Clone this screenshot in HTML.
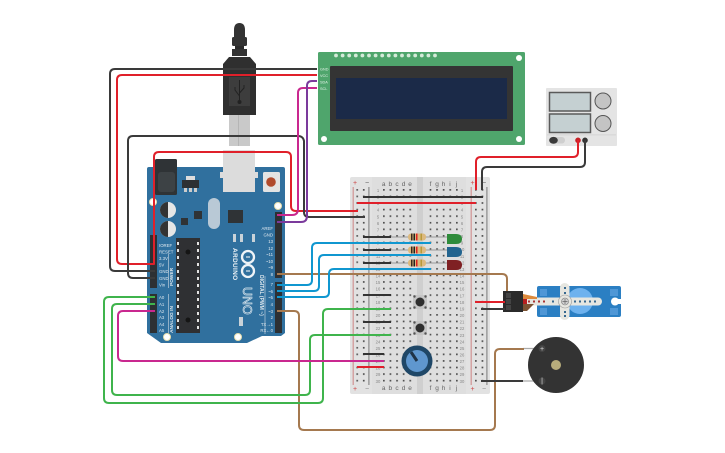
<!DOCTYPE html>
<html><head><meta charset="utf-8"><style>
html,body{margin:0;padding:0;background:#fff;width:725px;height:453px;overflow:hidden}
svg{display:block;font-family:"Liberation Sans",sans-serif;filter:blur(0.3px)}
.w{fill:none;stroke-width:2;stroke-linejoin:round;stroke-linecap:butt}
.n text{font-size:4.2px;fill:#888;text-anchor:middle}
.l text{font-size:4.3px;fill:#dfe8ef}
.r text{font-size:4.3px;fill:#dfe8ef;text-anchor:end}
</style></head><body>
<svg width="725" height="453" viewBox="0 0 725 453" xmlns="http://www.w3.org/2000/svg">
<defs>
<pattern id="dr" x="356.3" y="189" width="6.6" height="6.58" patternUnits="userSpaceOnUse"><rect width="1.7" height="1.7" fill="#505050"/></pattern>
<pattern id="dc" x="383" y="189" width="6.6" height="6.58" patternUnits="userSpaceOnUse"><rect width="1.7" height="1.7" fill="#505050"/></pattern>
<pattern id="dd" x="429.6" y="189" width="6.6" height="6.58" patternUnits="userSpaceOnUse"><rect width="1.7" height="1.7" fill="#505050"/></pattern>
<pattern id="de" x="475" y="189" width="6.6" height="6.58" patternUnits="userSpaceOnUse"><rect width="1.7" height="1.7" fill="#505050"/></pattern>
</defs>

<!-- USB cable -->
<rect x="229" y="113" width="21" height="33" fill="#c9c9c9"/>
<rect x="238" y="113" width="1" height="33" fill="#b5b5b5"/>
<path d="M234 40V30Q234 23 239.500 23Q245 23 245 30V40Z" fill="#333"/>
<rect x="232" y="37" width="15" height="9" rx="1.500" fill="#333"/>
<rect x="235" y="46" width="9" height="4" fill="#2a2a2a"/>
<rect x="232" y="49" width="15" height="7" fill="#333"/>
<path d="M229 57H250L256 64V115H223V64Z" fill="#2f2f2f"/>
<rect x="229" y="77" width="21" height="29" fill="#3d3d3d"/>
<path d="M239.500 80V102M239.500 96L235 90V87M239.500 93L244 88V85" stroke="#222" stroke-width="1" fill="none"/>
<circle cx="239.500" cy="102" r="2" fill="#222"/>

<!-- LCD -->
<rect x="318" y="52" width="207" height="93" rx="1.500" fill="#4fa56c"/>
<rect x="330" y="66" width="183" height="65" rx="1" fill="#343434"/>
<rect x="336" y="78" width="171" height="41" fill="#1b2a48"/>
<g fill="#fff"><circle cx="519" cy="58" r="3"/><circle cx="324" cy="139" r="3"/><circle cx="519" cy="139" r="3"/></g>
<g fill="#d5ead9"><circle cx="336" cy="55.500" r="1.900"/><circle cx="342.600" cy="55.500" r="1.900"/><circle cx="349.200" cy="55.500" r="1.900"/><circle cx="355.800" cy="55.500" r="1.900"/><circle cx="362.400" cy="55.500" r="1.900"/><circle cx="369" cy="55.500" r="1.900"/><circle cx="375.600" cy="55.500" r="1.900"/><circle cx="382.200" cy="55.500" r="1.900"/><circle cx="388.800" cy="55.500" r="1.900"/><circle cx="395.400" cy="55.500" r="1.900"/><circle cx="402" cy="55.500" r="1.900"/><circle cx="408.600" cy="55.500" r="1.900"/><circle cx="415.200" cy="55.500" r="1.900"/><circle cx="421.800" cy="55.500" r="1.900"/><circle cx="428.400" cy="55.500" r="1.900"/><circle cx="435" cy="55.500" r="1.900"/></g>
<g font-size="3.800" fill="#e4f3e8"><text x="320" y="70.500">GND</text><text x="320" y="77">VCC</text><text x="320" y="83.500">SDA</text><text x="320" y="90">SCL</text></g>

<!-- Power supply -->
<rect x="546" y="88" width="71" height="58" rx="1" fill="#e4e4e4"/>
<rect x="547" y="134.500" width="69" height="0.800" fill="#d0d0d0"/>
<rect x="549.500" y="92.500" width="41" height="18.500" fill="#c5d0d2" stroke="#5a5a5a" stroke-width="1.500"/>
<rect x="549.500" y="114" width="41" height="18.500" fill="#c5d0d2" stroke="#5a5a5a" stroke-width="1.500"/>
<circle cx="603" cy="101" r="8" fill="#c4c4c4" stroke="#555" stroke-width="1"/>
<circle cx="603" cy="123.500" r="8" fill="#c4c4c4" stroke="#555" stroke-width="1"/>
<rect x="549" y="137" width="16" height="6.500" rx="3.200" fill="#cfcfcf"/>
<ellipse cx="553.500" cy="140.300" rx="4.300" ry="3.400" fill="#3a3a3a"/>
<circle cx="578" cy="140.300" r="2.800" fill="#c62026"/>
<circle cx="585" cy="140.300" r="2.800" fill="#333"/>

<!-- Arduino -->
<path d="M149 167H283Q285 167 285 169V333L281 336H262L247 343H161L147 333V169Q147 167 149 167Z" fill="#30709e"/>
<rect x="155" y="159" width="22" height="36" rx="1.500" fill="#2f3336"/>
<rect x="158" y="172" width="17" height="20" rx="3" fill="#3d4245"/>
<path d="M223 150H255V172H258V178H255V192H223V178H220V172H223Z" fill="#dcdcdc"/>
<rect x="263" y="172" width="17" height="20" rx="1.500" fill="#e3e3e3"/>
<circle cx="271" cy="182" r="4.800" fill="#b04a2c"/>
<rect x="186" y="176" width="9" height="4" fill="#ddd"/>
<rect x="182" y="180" width="17" height="8" fill="#2d3033"/>
<rect x="184" y="188" width="3" height="4" fill="#ccc"/><rect x="189" y="188" width="3" height="4" fill="#ccc"/><rect x="194" y="188" width="3" height="4" fill="#ccc"/>
<circle cx="168" cy="210" r="8" fill="#e6e6e6"/><path d="M168 202A8 8 0 0 0 168 218Z" fill="#333"/>
<circle cx="168" cy="229" r="8" fill="#e6e6e6"/><path d="M168 221A8 8 0 0 0 168 237Z" fill="#333"/>
<rect x="194" y="211" width="8" height="8" fill="#2f3336"/>
<rect x="181" y="218" width="7" height="7" fill="#2f3336"/>
<rect x="208" y="198" width="12" height="31" rx="6" fill="#b9c9d6"/>
<rect x="228" y="210" width="15" height="13" fill="#2f3336"/>
<rect x="233" y="234" width="3" height="8" fill="#c9d2d8"/><rect x="240" y="234" width="3" height="8" fill="#c9d2d8"/><rect x="252" y="234" width="3" height="8" fill="#c9d2d8"/>
<rect x="239" y="317" width="4" height="9" fill="#c9d2d8"/>
<rect x="176" y="238" width="24" height="95" fill="#2f3033"/>
<g fill="#e2e2e2"><rect x="177" y="242" width="2" height="3"/><rect x="197" y="242" width="2" height="3"/><rect x="177" y="249" width="2" height="3"/><rect x="197" y="249" width="2" height="3"/><rect x="177" y="256" width="2" height="3"/><rect x="197" y="256" width="2" height="3"/><rect x="177" y="263" width="2" height="3"/><rect x="197" y="263" width="2" height="3"/><rect x="177" y="270" width="2" height="3"/><rect x="197" y="270" width="2" height="3"/><rect x="177" y="277" width="2" height="3"/><rect x="197" y="277" width="2" height="3"/><rect x="177" y="284" width="2" height="3"/><rect x="197" y="284" width="2" height="3"/><rect x="177" y="291" width="2" height="3"/><rect x="197" y="291" width="2" height="3"/><rect x="177" y="298" width="2" height="3"/><rect x="197" y="298" width="2" height="3"/><rect x="177" y="305" width="2" height="3"/><rect x="197" y="305" width="2" height="3"/><rect x="177" y="312" width="2" height="3"/><rect x="197" y="312" width="2" height="3"/><rect x="177" y="319" width="2" height="3"/><rect x="197" y="319" width="2" height="3"/><rect x="177" y="326" width="2" height="3"/><rect x="197" y="326" width="2" height="3"/></g>
<circle cx="188" cy="252" r="2.500" fill="#151515"/><circle cx="188" cy="320" r="2.500" fill="#151515"/>
<g fill="#2d3033"><rect x="150" y="235" width="7" height="53"/><rect x="150" y="294" width="7" height="39"/><rect x="275" y="212" width="7" height="66"/><rect x="275" y="282" width="7" height="51"/></g>
<g fill="#fff" stroke="#e7dfae" stroke-width="1"><circle cx="153" cy="202" r="3.500"/><circle cx="278" cy="206" r="3.500"/><circle cx="167" cy="337" r="3.500"/><circle cx="238" cy="337" r="3.500"/></g>
<g fill="none" stroke="#eef3f7" stroke-width="2.300"><circle cx="248" cy="257" r="6"/><circle cx="248" cy="271" r="6"/></g>
<rect x="246" y="256.500" width="4" height="1" fill="#fff"/><rect x="246" y="270.500" width="4" height="1" fill="#fff"/>
<text transform="translate(233 248) rotate(90)" font-size="6.500" font-weight="bold" fill="#eef3f7" letter-spacing=".3">ARDUINO</text>
<text transform="translate(243 287) rotate(90)" font-size="12.500" fill="#30709e" stroke="#e4edf3" stroke-width=".6">UNO</text>
<text transform="translate(260 275) rotate(90)" font-size="5" font-weight="bold" fill="#e0e9ef">DIGITAL (PWM ~)</text>
<text transform="translate(173 286) rotate(-90)" font-size="4.800" font-weight="bold" fill="#e0e9ef">POWER</text>
<text transform="translate(173 333) rotate(-90)" font-size="4.800" font-weight="bold" fill="#e0e9ef">ANALOG IN</text>
<path d="M168.500 254V288M168.500 294V333M265 276V334" stroke="#cfdbe4" stroke-width=".6" fill="none"/>
<g class="l"><text x="159" y="247">IOREF</text><text x="159" y="253.500">RESET</text><text x="159" y="260">3.3V</text><text x="159" y="266.500">5V</text><text x="159" y="273">GND</text><text x="159" y="280">GND</text><text x="159" y="286.500">Vin</text><text x="159" y="299">A0</text><text x="159" y="306">A1</text><text x="159" y="313">A2</text><text x="159" y="319">A3</text><text x="159" y="326">A4</text><text x="159" y="332">A5</text></g>
<g class="r"><text x="273" y="230">AREF</text><text x="273" y="236.500">GND</text><text x="273" y="243">13</text><text x="273" y="250">12</text><text x="273" y="256">~11</text><text x="273" y="263">~10</text><text x="273" y="269">~9</text><text x="273" y="276">8</text><text x="273" y="286">7</text><text x="273" y="293">~6</text><text x="273" y="299">~5</text><text x="273" y="306">4</text><text x="273" y="313">~3</text><text x="273" y="319">2</text><text x="273" y="326">TX→1</text><text x="273" y="332">RX←0</text></g>

<!-- Breadboard -->
<rect x="350" y="177" width="140" height="217" rx="2" fill="#e2e2e2"/>
<rect x="372" y="177" width="45" height="217" fill="#dedede"/>
<rect x="423" y="177" width="43" height="217" fill="#dedede"/>
<rect x="417" y="177" width="6" height="217" fill="#cfcfcf"/>
<rect x="352.500" y="187" width="1.500" height="198" fill="#d4a3a3"/>
<rect x="368.300" y="187" width="1.200" height="198" fill="#8a8a8a"/>
<rect x="470.500" y="187" width="1.500" height="198" fill="#d4a3a3"/>
<rect x="486.300" y="187" width="1.200" height="198" fill="#8a8a8a"/>
<rect x="356.300" y="189" width="9.400" height="194" fill="url(#dr)"/>
<rect x="383" y="189" width="28.500" height="194" fill="url(#dc)"/>
<rect x="429.600" y="189" width="28.500" height="194" fill="url(#dd)"/>
<rect x="475" y="189" width="9.400" height="194" fill="url(#de)"/>
<g font-size="6.500" fill="#666" text-anchor="middle"><text x="383.700" y="186">a</text><text x="390.300" y="186">b</text><text x="397" y="186">c</text><text x="403.500" y="186">d</text><text x="410" y="186">e</text><text x="430.500" y="186">f</text><text x="437" y="186">g</text><text x="443.500" y="186">h</text><text x="450" y="186">i</text><text x="456.500" y="186">j</text>
<text x="383.700" y="390">a</text><text x="390.300" y="390">b</text><text x="397" y="390">c</text><text x="403.500" y="390">d</text><text x="410" y="390">e</text><text x="430.500" y="390">f</text><text x="437" y="390">g</text><text x="443.500" y="390">h</text><text x="450" y="390">i</text><text x="456.500" y="390">j</text></g>
<g font-size="7" text-anchor="middle"><text x="355" y="185" fill="#c44">+</text><text x="367" y="185" fill="#555">−</text><text x="472.500" y="185" fill="#c44">+</text><text x="484" y="185" fill="#555">−</text><text x="355" y="391" fill="#c44">+</text><text x="367" y="391" fill="#888">−</text><text x="472.500" y="391" fill="#c44">+</text><text x="484" y="391" fill="#888">−</text></g>
<g class="n"><text x="378" y="192">1</text><text x="378" y="198.600">2</text><text x="378" y="205.200">3</text><text x="378" y="211.700">4</text><text x="378" y="218.300">5</text><text x="378" y="224.900">6</text><text x="378" y="231.500">7</text><text x="378" y="238">8</text><text x="378" y="244.600">9</text><text x="378" y="251.200">10</text><text x="378" y="257.800">11</text><text x="378" y="264.400">12</text><text x="378" y="271">13</text><text x="378" y="277.500">14</text><text x="378" y="284.100">15</text><text x="378" y="290.700">16</text><text x="378" y="297.300">17</text><text x="378" y="303.900">18</text><text x="378" y="310.400">19</text><text x="378" y="317">20</text><text x="378" y="323.600">21</text><text x="378" y="330.200">22</text><text x="378" y="336.800">23</text><text x="378" y="343.300">24</text><text x="378" y="349.900">25</text><text x="378" y="356.500">26</text><text x="378" y="363.100">27</text><text x="378" y="369.700">28</text><text x="378" y="376.200">29</text><text x="378" y="382.800">30</text>
<text x="462" y="192">1</text><text x="462" y="198.600">2</text><text x="462" y="205.200">3</text><text x="462" y="211.700">4</text><text x="462" y="218.300">5</text><text x="462" y="224.900">6</text><text x="462" y="231.500">7</text><text x="462" y="238">8</text><text x="462" y="244.600">9</text><text x="462" y="251.200">10</text><text x="462" y="257.800">11</text><text x="462" y="264.400">12</text><text x="462" y="271">13</text><text x="462" y="277.500">14</text><text x="462" y="284.100">15</text><text x="462" y="290.700">16</text><text x="462" y="297.300">17</text><text x="462" y="303.900">18</text><text x="462" y="310.400">19</text><text x="462" y="317">20</text><text x="462" y="323.600">21</text><text x="462" y="330.200">22</text><text x="462" y="336.800">23</text><text x="462" y="343.300">24</text><text x="462" y="349.900">25</text><text x="462" y="356.500">26</text><text x="462" y="363.100">27</text><text x="462" y="369.700">28</text><text x="462" y="376.200">29</text><text x="462" y="382.800">30</text></g>

<!-- Resistors, LEDs -->
<g stroke="#999" stroke-width="1"><path d="M391 237H447M391 250H447M391 263H447"/></g>
<g id="rs">
<rect x="408" y="233.500" width="18" height="7" rx="3" fill="#dcb97e"/><rect x="411" y="233.500" width="1.500" height="7" fill="#3a2a20"/><rect x="413.500" y="233.500" width="1.500" height="7" fill="#222"/><rect x="416" y="233.500" width="1.500" height="7" fill="#d22"/><rect x="420.500" y="233.500" width="1.500" height="7" fill="#b89a3a"/>
<rect x="408" y="246.500" width="18" height="7" rx="3" fill="#dcb97e"/><rect x="411" y="246.500" width="1.500" height="7" fill="#3a2a20"/><rect x="413.500" y="246.500" width="1.500" height="7" fill="#222"/><rect x="416" y="246.500" width="1.500" height="7" fill="#d22"/><rect x="420.500" y="246.500" width="1.500" height="7" fill="#b89a3a"/>
<rect x="408" y="259.500" width="18" height="7" rx="3" fill="#dcb97e"/><rect x="411" y="259.500" width="1.500" height="7" fill="#3a2a20"/><rect x="413.500" y="259.500" width="1.500" height="7" fill="#222"/><rect x="416" y="259.500" width="1.500" height="7" fill="#d22"/><rect x="420.500" y="259.500" width="1.500" height="7" fill="#b89a3a"/>
</g>
<path d="M447 234H456Q462 234 462 239Q462 244 456 244H447Z" fill="#2e8b3a"/>
<path d="M447 247H456Q462 247 462 252Q462 257 456 257H447Z" fill="#22648f"/>
<path d="M447 260H456Q462 260 462 265Q462 270 456 270H447Z" fill="#7f2023"/>

<!-- Buttons & pot -->
<rect x="413" y="295" width="14" height="14" fill="#c6c6c6"/><circle cx="420" cy="302" r="4.500" fill="#2f2f2f"/>
<rect x="413" y="321" width="14" height="14" fill="#c6c6c6"/><circle cx="420" cy="328" r="4.500" fill="#2f2f2f"/>
<g fill="#555"><circle cx="414.500" cy="296.500" r="1.200"/><circle cx="425.500" cy="296.500" r="1.200"/><circle cx="414.500" cy="307.500" r="1.200"/><circle cx="425.500" cy="307.500" r="1.200"/><circle cx="414.500" cy="322.500" r="1.200"/><circle cx="425.500" cy="322.500" r="1.200"/><circle cx="414.500" cy="333.500" r="1.200"/><circle cx="425.500" cy="333.500" r="1.200"/></g>

<!-- Wires on breadboard -->
<g class="w">
<path stroke="#333" d="M363 197H483M363 237H391M363 250H391M363 263H391M363 295H391M363 322H391M363 354H384"/>
<path stroke="#e0202a" d="M357 203H476M357 367H384"/>
</g>

<circle cx="417" cy="361" r="15.500" fill="#1f4767"/>
<circle cx="417" cy="361" r="11" fill="#5f97cf"/>
<path d="M417 361L411 352" stroke="#1f3347" stroke-width="3"/>

<!-- Servo -->
<path d="M539 286H619Q621 286 621 288V315Q621 317 619 317H539Q537 317 537 315V288Q537 286 539 286Z" fill="#2b7fc3"/>
<circle cx="615" cy="301.500" r="4" fill="#fff"/><path d="M615 299H622V304H615Z" fill="#fff"/>
<rect x="610" y="289" width="8" height="7" fill="#4f97d6"/><rect x="610" y="308" width="8" height="7" fill="#4f97d6"/>
<rect x="540" y="289" width="7" height="7" fill="#4f97d6"/><rect x="540" y="308" width="7" height="7" fill="#4f97d6"/>
<circle cx="580" cy="301" r="13" fill="#6eb2ee"/>
<rect x="525" y="297.500" width="77" height="8" rx="4" fill="#e6e6e0"/>
<rect x="560" y="283" width="9.500" height="37" rx="4.700" fill="#e6e6e0"/>
<circle cx="565" cy="301.500" r="6.500" fill="#e6e6e0" stroke="#999" stroke-width=".6"/>
<circle cx="565" cy="301.500" r="3.500" fill="#cfcfcf" stroke="#777" stroke-width=".6"/>
<path d="M562.500 301.500H567.500M565 299V304" stroke="#666" stroke-width=".7"/>
<g fill="#a33"><rect x="528" y="300.500" width="2" height="2"/><rect x="533" y="300.500" width="2" height="2"/><rect x="538" y="300.500" width="2" height="2"/><rect x="543" y="300.500" width="2" height="2"/></g>
<g fill="#37688f"><rect x="552" y="300.500" width="2" height="2"/><rect x="574" y="300.500" width="2" height="2"/><rect x="579" y="300.500" width="2" height="2"/><rect x="584" y="300.500" width="2" height="2"/><rect x="589" y="300.500" width="2" height="2"/><rect x="594" y="300.500" width="2" height="2"/><rect x="564" y="287" width="2" height="2"/><rect x="564" y="292" width="2" height="2"/><rect x="564" y="311" width="2" height="2"/><rect x="564" y="315" width="2" height="2"/></g>
<path d="M523 294L537 297V299H523Z" fill="#dd8a3c"/><path d="M523 299H527V304H523Z" fill="#b81f1f"/><path d="M523 304H534L527 311H523Z" fill="#7d5333"/>
<rect x="503" y="291" width="20" height="21" fill="#2b2b2b"/>
<rect x="506" y="293" width="5" height="5" fill="#444"/><rect x="506" y="299" width="5" height="5" fill="#444"/><rect x="506" y="305" width="5" height="5" fill="#444"/>

<!-- Buzzer -->
<path d="M523 348.500H535M523 381H535" stroke="#aaa" stroke-width="1.300"/>
<circle cx="556" cy="365" r="28" fill="#333"/>
<circle cx="556" cy="365" r="5" fill="#b8ad7c"/>
<circle cx="542" cy="348.500" r="3.500" fill="#444"/><circle cx="542" cy="381" r="3.500" fill="#444"/>
<text x="542" y="351" font-size="7" fill="#ddd" text-anchor="middle">+</text>
<text x="542" y="383" font-size="7" fill="#ddd" text-anchor="middle">|</text>

<!-- Wires -->
<g class="w">
<path stroke="#a5794f" d="M277 274H502Q507 274 507 279V291"/>
<path stroke="#a5794f" d="M277 311H294Q299 311 299 316V425Q299 430 304 430H490Q495 430 495 425V354Q495 349 500 349H524"/>
<path stroke="#3a3a3a" d="M317 69H115Q110 69 110 74V266Q110 271 115 271H155"/>
<path stroke="#e0202a" d="M317 75H122Q117 75 117 80V259Q117 264 122 264H154V157Q154 152 159 152H286Q291 152 291 157V206Q291 211 296 211H358"/>
<path stroke="#3a3a3a" d="M155 278H133Q128 278 128 273V141Q128 136 133 136H298Q303 136 304 141V212Q304 217 309 217H365"/>
<path stroke="#c9288f" d="M317 88H303Q298 88 298 93V209Q298 215 292 215H277"/>
<path stroke="#7b3a9c" d="M317 81H312Q307 81 307 86V216Q307 222 301 222H277"/>
<path stroke="#1097d0" d="M277 285H307Q312 285 312 280V248Q312 243 317 243H431"/>
<path stroke="#1097d0" d="M277 291H314Q319 291 319 286V260Q319 255 324 255H431"/>
<path stroke="#1097d0" d="M277 297H324Q329 297 329 292V274Q329 269 334 269H431"/>
<path stroke="#3fb44c" d="M155 297H109Q104 297 104 302V398Q104 403 109 403H318Q323 403 323 398V314Q323 309 328 309H391"/>
<path stroke="#3fb44c" d="M155 304H117Q112 304 112 309V390Q112 395 117 395H305Q310 395 310 390V340Q310 335 315 335H391"/>
<path stroke="#c9288f" d="M155 311H123Q118 311 118 316V356Q118 361 123 361H384"/>
<path stroke="#e0202a" d="M578 140V152Q578 157 573 157H481Q476 157 476 162V190"/>
<path stroke="#3a3a3a" d="M585 140V162Q585 167 580 167H487Q482 167 482 172V190"/>
<path stroke="#e0202a" d="M475 302H505"/>
<path stroke="#3a3a3a" d="M481 309H505M481 381H523"/>
</g>
</svg>
</body></html>
